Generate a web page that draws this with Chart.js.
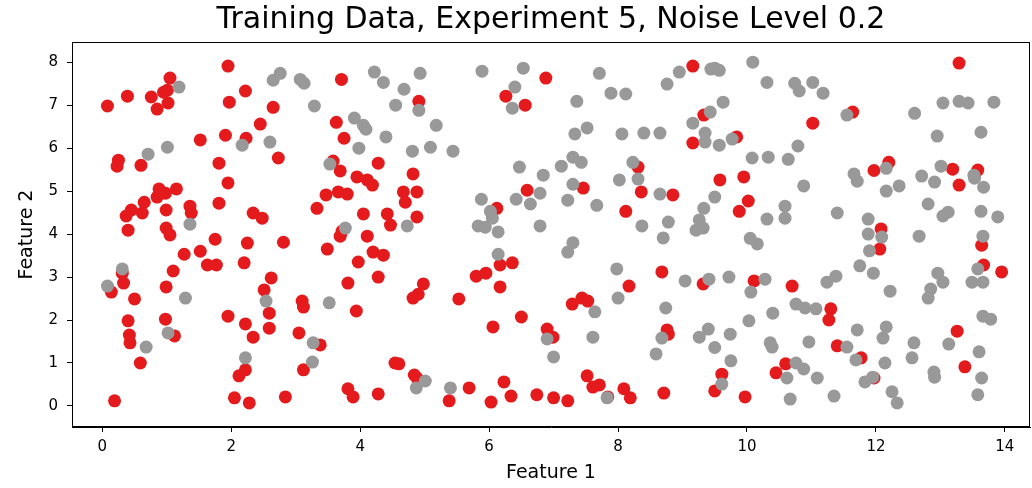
<!DOCTYPE html>
<html>
<head>
<meta charset="utf-8">
<script src="https://cdn.jsdelivr.net/npm/chart.js@4"></script>
<style>
  html, body { margin: 0; padding: 0; background: #fff; }
  #wrap { position: relative; width: 1032px; height: 488px; }
</style>
</head>
<body>
<div id="wrap"><canvas id="scatterChart"></canvas></div>
<script>
// class 1 (red) points
const redX = [1.95,1.05,1.01,0.95,0.39,0.76,0.08,0.85,1.02,1.97,1.52,1.91,0.25,0.23,0.60,1.81,1.95,0.88,1.15,0.98,
  0.85,0.65,0.45,0.37,0.62,0.99,1.36,1.38,1.81,0.40,0.99,1.05,1.75,1.27,1.52,1.63,1.77,1.10,0.31,0.33,
  0.14,0.99,0.50,1.95,0.40,0.98,1.12,0.42,0.43,0.59,0.19,2.22,2.65,2.45,2.23,2.73,2.34,2.48,2.25,2.81,
  3.71,3.63,3.75,3.58,3.69,4.28,3.95,4.11,4.19,3.66,3.80,3.47,3.33,4.05,4.42,4.47,3.72,3.69,4.11,3.49,
  4.20,4.36,3.97,2.20,4.28,2.62,3.81,2.51,3.10,3.12,3.94,2.59,2.22,2.59,2.34,3.05,3.38,2.22,2.12,3.12,
  4.54,2.05,2.28,2.84,3.81,3.89,4.28,4.91,6.88,6.26,6.56,4.82,4.67,4.88,4.70,4.88,6.59,6.12,4.98,4.90,
  4.82,5.53,5.80,5.95,6.17,6.36,6.17,6.50,6.06,6.90,6.99,4.60,4.84,4.88,5.69,6.23,5.38,6.03,6.34,6.74,
  7.00,9.16,9.33,9.16,8.31,7.46,8.36,8.85,8.12,8.68,8.17,9.32,7.29,7.44,7.53,8.76,8.78,7.52,7.61,7.71,
  7.84,8.09,8.19,8.71,7.22,9.50,11.64,11.02,9.84,9.58,9.95,10.02,9.88,11.97,10.11,10.70,11.30,11.27,11.40,11.77,
  10.60,10.45,9.61,9.97,13.29,12.20,13.19,13.58,13.29,12.08,13.64,13.67,13.95,12.06,13.26,13.38,11.97];
const redY = [7.91,7.63,7.35,7.30,7.21,7.19,6.98,6.91,7.05,7.07,6.19,6.30,5.72,5.58,5.60,5.65,5.19,5.05,5.05,4.95,
  4.86,4.74,4.56,4.42,4.49,4.56,4.65,4.49,4.72,4.09,4.14,3.98,3.88,3.53,3.60,3.28,3.28,3.14,3.09,2.86,
  2.65,2.77,2.49,2.09,1.98,2.02,1.63,1.65,1.47,1.00,0.12,7.33,6.95,6.56,6.23,5.77,4.49,4.37,3.79,3.81,
  7.60,6.60,6.23,5.70,5.47,5.65,5.33,5.26,5.14,4.98,4.93,4.91,4.60,4.47,4.47,4.21,4.07,3.95,3.95,3.65,
  3.58,3.51,3.35,3.33,3.00,2.98,2.86,2.70,2.44,2.30,2.21,2.16,1.91,1.81,1.60,1.70,1.42,0.84,0.70,0.84,
  1.00,0.19,0.07,0.21,0.40,0.21,0.28,7.09,7.63,7.21,7.00,5.40,4.98,4.98,4.74,4.40,5.02,4.60,2.84,2.60,
  2.51,2.49,3.02,3.09,3.28,3.33,2.77,2.07,1.84,1.79,1.60,0.98,0.72,0.65,0.42,0.56,0.12,0.09,0.23,0.26,
  0.19,7.91,6.77,6.12,5.56,5.07,4.98,4.91,4.53,3.12,2.79,2.84,2.37,2.51,2.44,1.77,1.67,0.70,0.44,0.49,
  0.21,0.40,0.19,0.30,0.12,0.35,6.84,6.58,6.26,5.26,5.33,4.77,4.53,5.48,2.91,2.79,2.26,2.00,1.40,1.12,
  0.98,0.77,0.74,0.21,7.98,5.67,5.51,5.49,5.14,4.12,3.74,3.28,3.12,3.65,1.74,0.91,0.65];

// class 0 (gray) points
const grayX = [1.19,0.71,1.01,1.36,0.31,0.08,1.29,1.02,0.68,2.76,2.65,3.07,3.13,3.29,4.22,4.36,4.55,3.91,4.05,4.09,
  4.40,3.98,2.60,2.17,3.53,3.77,2.54,3.52,3.27,3.26,2.22,4.93,4.68,4.91,5.18,4.81,5.09,5.44,5.89,6.53,
  6.40,6.36,6.47,6.84,6.79,6.42,6.64,5.88,6.02,6.05,5.83,5.94,6.14,6.79,4.73,6.14,6.90,7.00,5.01,4.87,
  5.40,7.71,7.89,8.12,7.36,8.95,8.76,9.44,7.52,7.33,8.06,8.40,8.65,9.16,9.35,9.35,9.43,7.30,7.43,7.12,
  8.23,8.31,8.02,7.30,7.22,7.67,8.65,9.33,9.26,9.21,9.32,8.37,8.78,8.70,7.30,9.50,7.22,7.98,9.04,9.41,
  8.00,7.64,8.74,7.61,8.68,8.59,9.26,9.40,9.50,7.83,9.50,9.57,10.09,10.31,10.74,10.81,11.02,11.18,9.63,11.55,
  9.77,9.57,10.79,10.08,10.33,10.64,11.66,11.71,10.88,10.59,10.59,10.31,11.40,11.88,11.88,10.05,10.16,9.72,10.28,10.06,
  10.40,10.03,10.76,10.90,11.07,11.24,11.38,11.75,11.90,11.96,11.71,10.96,10.36,10.39,9.74,9.75,11.55,10.76,10.88,10.62,
  11.09,11.69,11.83,11.95,9.61,10.67,11.35,13.04,13.29,13.43,13.83,12.60,12.95,13.63,12.16,13.01,12.71,12.91,13.52,13.53,
  13.67,12.16,12.36,12.81,13.04,13.12,13.63,13.89,12.67,13.66,12.09,13.58,13.49,13.66,12.96,13.04,12.85,12.81,12.22,13.66,
  13.78,12.16,12.11,12.59,13.13,13.60,12.56,12.14,12.90,12.91,13.64,12.25,12.33,13.58];
const grayY = [7.42,5.86,6.02,4.23,3.19,2.79,2.51,1.70,1.37,7.74,7.58,7.60,7.51,6.98,7.77,7.53,7.00,6.70,6.53,6.44,
  6.26,6.00,6.14,6.07,5.63,4.14,2.44,2.40,1.47,1.02,1.12,7.74,7.37,6.88,6.53,5.93,6.02,5.93,7.79,7.86,
  7.42,6.93,5.56,5.37,4.95,4.81,4.70,4.81,4.53,4.37,4.19,4.16,4.05,4.19,4.19,3.53,1.56,1.14,0.58,0.42,
  0.42,7.74,7.28,7.26,7.09,7.77,7.49,7.84,6.47,6.33,6.33,6.35,6.35,6.58,6.35,6.14,6.84,5.79,5.67,5.58,
  5.67,5.28,5.26,5.16,4.79,4.67,4.93,4.60,4.33,4.09,4.14,4.19,4.28,3.91,3.80,4.86,3.58,3.19,2.91,2.95,
  2.51,2.19,2.28,1.60,1.58,1.21,1.60,1.79,1.36,0.19,7.86,7.81,8.00,7.53,7.51,7.33,7.53,7.28,7.07,6.77,
  6.21,6.07,6.05,5.77,5.79,5.74,5.40,5.23,5.12,4.65,4.37,4.35,4.49,4.35,4.00,3.90,3.77,3.00,2.95,2.65,
  2.16,1.98,2.37,2.28,2.26,2.88,3.02,3.26,3.61,3.09,1.77,1.49,1.47,1.37,1.67,1.05,1.37,1.00,0.86,0.65,
  0.65,1.07,0.56,0.67,0.51,0.16,0.23,7.05,7.09,7.05,7.07,6.81,6.28,6.37,5.53,5.58,5.35,5.21,5.37,5.30,
  5.09,5.00,5.12,4.70,4.42,4.51,4.53,4.40,3.95,3.95,3.93,3.19,2.88,2.88,3.09,2.88,2.72,2.51,2.67,2.09,
  2.02,1.84,1.58,1.47,1.44,1.26,1.12,1.00,0.79,0.67,0.65,0.33,0.07,0.26];

const xTicks = [0, 2, 4, 6, 8, 10, 12, 14];
const yTicks = [0, 1, 2, 3, 4, 5, 6, 7, 8];
const chartTitle = 'Training Data, Experiment 5, Noise Level 0.2';

const toPoints = (xs, ys) => xs.map((x, i) => ({ x: x, y: ys[i] }));
const font = 'DejaVu Sans';

// matplotlib-like frame on all four sides, title centred over the axes
const framePlugin = {
  id: 'frame',
  afterDatasetsDraw(chart) {
    const { ctx, chartArea } = chart;
    ctx.save();
    ctx.strokeStyle = '#000';
    ctx.lineWidth = 1;
    ctx.strokeRect(chartArea.left + 0.5, chartArea.top + 0.5,
      chartArea.right - chartArea.left - 1, chartArea.bottom - chartArea.top - 1);
    ctx.restore();
  },
  afterDraw(chart) {
    const { ctx, chartArea } = chart;
    ctx.save();
    ctx.fillStyle = '#000';
    ctx.font = '30px "' + font + '"';
    ctx.textAlign = 'center';
    ctx.textBaseline = 'middle';
    ctx.fillText(chartTitle, (chartArea.left + chartArea.right) / 2, 20);
    ctx.restore();
  }
};

const ctx = document.getElementById('scatterChart').getContext('2d');
new Chart(ctx, {
  type: 'scatter',
  data: {
    datasets: [
      {
        label: 'class 0',
        data: toPoints(grayX, grayY),
        backgroundColor: '#999999',
        borderWidth: 0,
        pointRadius: 6.5,
        pointHoverRadius: 6.5,
      },
      {
        label: 'class 1',
        data: toPoints(redX, redY),
        backgroundColor: '#e41a1c',
        borderWidth: 0,
        pointRadius: 6.5,
        pointHoverRadius: 6.5,
      },
    ],
  },
  options: {
    responsive: true,
    maintainAspectRatio: false,
    animation: false,
    layout: { autoPadding: false, padding: { left: 0, right: 2, top: 42, bottom: 0 } },
    plugins: {
      legend: { display: false },
      tooltip: { enabled: false },
      title: { display: false },
    },
    scales: {
      x: {
        type: 'linear',
        min: -0.47,
        max: 14.39,
        afterBuildTicks: (scale) => { scale.ticks = xTicks.map((v) => ({ value: v })); },
        afterFit: (scale) => {
          scale.height = 61;
          scale.paddingLeft = 0;
          scale.paddingRight = 0;
        },
        grid: { drawOnChartArea: false, drawTicks: true, tickLength: 5, color: '#000' },
        border: { display: true, color: '#000', width: 1 },
        ticks: { color: '#000', font: { family: font, size: 15 }, padding: 6, maxRotation: 0 },
        title: {
          display: true,
          text: 'Feature 1',
          color: '#000',
          font: { family: font, size: 19 },
          padding: { top: 0, bottom: 4 },
        },
      },
      y: {
        type: 'linear',
        min: -0.49,
        max: 8.47,
        afterBuildTicks: (scale) => { scale.ticks = yTicks.map((v) => ({ value: v })); },
        afterFit: (scale) => {
          scale.width = 72;
          scale.paddingTop = 0;
          scale.paddingBottom = 0;
        },
        grid: { drawOnChartArea: false, drawTicks: true, tickLength: 5, color: '#000' },
        border: { display: true, color: '#000', width: 1 },
        ticks: { color: '#000', font: { family: font, size: 15 }, padding: 9 },
        title: {
          display: true,
          text: 'Feature 2',
          color: '#000',
          font: { family: font, size: 19 },
          padding: { top: 16, bottom: 0 },
        },
      },
    },
  },
  plugins: [framePlugin],
});
</script>
</body>
</html>
